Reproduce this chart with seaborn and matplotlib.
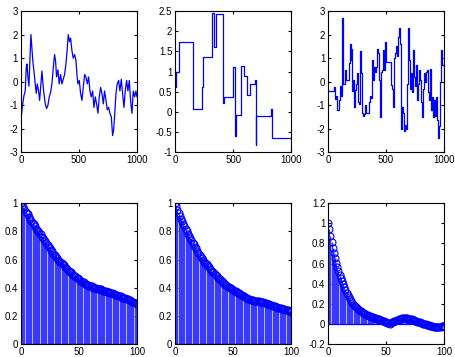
import numpy as np
import matplotlib
matplotlib.use('Agg')
import matplotlib.pyplot as plt
import seaborn as sns

# top row: three sample paths
s1_x = [3, 14, 26, 37, 46, 52, 60, 69, 78, 86, 95, 103, 112, 123, 132, 141, 152, 161, 170, 181,
        190, 198, 210, 221, 233, 244, 256, 267, 279, 290, 299, 307, 319, 330, 342, 353, 365, 376,
        388, 399, 408, 419, 428, 440, 451, 463, 474, 483, 491, 503, 514, 526, 537, 549, 560, 572,
        583, 595, 606, 618, 629, 641, 652, 664, 675, 687, 698, 710, 721, 733, 744, 756, 767, 779,
        790, 799, 807, 819, 830, 842, 853, 865, 876, 888, 899, 911, 922, 934, 945, 957, 968, 980,
        991, 1000]
s1_y = [-1.5, -1.0, -0.6, -0.4, 0.6, 0.75, 0.2, -0.2, 1.0, 2.0, 1.4, 0.85, 0.45, -0.1, -0.5, -0.1,
        -0.4, -0.8, -0.25, 0.45, -0.1, -0.5, -0.95, -1.15, -1.0, -0.65, -0.45, -0.1, 0.6, 1.15, 0.85,
        0.2, 0.5, -0.1, 0.3, -0.1, 0.1, 0.3, 0.75, 1.4, 2.0, 1.7, 1.85, 1.3, 1.0, 1.15, 0.9, 0.3,
        -0.1, 0.05, -0.5, -0.8, -0.25, 0.3, 0.2, -0.1, 0.2, -0.4, -0.65, -0.4, -1.1, -0.65, -0.95,
        -1.35, -0.65, -0.25, -0.5, -0.95, -0.4, -0.8, -1.2, -1.1, -1.35, -1.5, -2.3, -2.05, -1.5,
        -0.5, -0.1, 0.05, -0.4, 0.1, -0.5, -1.1, -0.4, 0.05, -0.4, 0.05, -0.8, -1.35, -0.4, -0.65,
        -0.4, -0.65]

s2_x = [0, 5, 29, 153, 230, 240, 320, 331, 352, 412, 424, 498, 513, 525, 568, 591, 622, 643,
        689, 695, 700, 824, 833, 1000]
s2_y = [0.62, 1.0, 1.72, 0.07, 0.62, 1.36, 2.46, 1.62, 2.43, 0.22, 0.36, 1.1, -0.6, -0.07, 1.13,
        0.9, 0.41, 0.68, 0.78, -0.82, -0.1, 0.06, -0.64, -0.64]

s3_x = [0, 52, 57, 72, 80, 92, 100, 112, 124, 132, 144, 152, 181, 190, 195, 201, 207, 216, 227,
        233, 241, 250, 259, 267, 276, 282, 293, 302, 313, 322, 330, 351, 362, 368, 376, 385, 394,
        402, 411, 420, 428, 437, 445, 454, 463, 471, 480, 491, 500, 540, 552, 563, 572, 580, 589,
        598, 606, 615, 624, 632, 641, 649, 658, 667, 675, 684, 693, 701, 710, 718, 727, 736, 744,
        753, 761, 767, 776, 784, 793, 802, 810, 819, 828, 836, 845, 853, 862, 871, 876, 885, 894,
        902, 911, 920, 928, 937, 945, 954, 963, 971, 980, 997, 1000]
s3_y = [-0.4, -0.25, -0.75, -0.6, -1.2, -0.8, -0.2, -0.6, 2.7, -0.1, 0.5, 0.05, 0.8, 1.6, 0.9,
        1.4, -0.4, 0.05, -1.1, -0.35, -0.1, 0.35, -0.85, -0.95, 1.3, 0.35, -1.35, -1.45, -1.4,
        -1.0, -1.35, -0.85, -0.6, -0.7, 0.9, 0.05, 0.6, 0.4, 0.6, 1.4, 1.2, 0.05, -1.5, 0.4, 0.5,
        1.35, 0.5, 1.7, 0.85, -0.15, -0.3, -1.1, 1.0, 1.2, 1.5, 1.1, 1.9, 2.3, 1.6, -2.0, -1.1,
        -1.35, -2.1, -1.85, -2.0, -0.1, 2.3, 0.9, -0.3, 0.35, -0.45, 1.35, 0.2, -0.2, 0.7, -0.8,
        -0.1, 0.5, 0.05, -0.85, -1.5, -0.3, 0.35, 0.0, 0.4, 0.5, -0.45, -0.8, 0.55, -1.2, -0.65,
        -1.5, -0.8, -1.45, -0.65, -1.65, -2.4, -1.9, 0.0, 1.35, 0.7, -0.8, -0.8]

# bottom row: autocorrelations, lags 0..100
lags = list(range(101))
acf1 = [1.00, 0.99, 0.97, 0.96, 0.94, 0.93, 0.92, 0.90, 0.89, 0.87, 0.86,
        0.85, 0.84, 0.82, 0.81, 0.80, 0.79, 0.78, 0.76, 0.75, 0.74,
        0.73, 0.72, 0.70, 0.69, 0.68, 0.67, 0.66, 0.64, 0.63, 0.62,
        0.61, 0.60, 0.59, 0.58, 0.575, 0.57, 0.56, 0.55, 0.54, 0.53,
        0.52, 0.51, 0.51, 0.50, 0.49, 0.48, 0.48, 0.47, 0.47, 0.46,
        0.45, 0.45, 0.44, 0.44, 0.43, 0.43, 0.42, 0.42, 0.41, 0.41,
        0.41, 0.40, 0.40, 0.40, 0.395, 0.39, 0.39, 0.39, 0.39, 0.385,
        0.38, 0.38, 0.38, 0.37, 0.37, 0.37, 0.36, 0.36, 0.36, 0.355,
        0.35, 0.35, 0.35, 0.34, 0.34, 0.34, 0.33, 0.33, 0.33, 0.325,
        0.32, 0.32, 0.31, 0.31, 0.305, 0.30, 0.30, 0.295, 0.29, 0.285]
acf2 = [1.00, 0.98, 0.95, 0.93, 0.91, 0.89, 0.87, 0.85, 0.84, 0.82, 0.80,
        0.78, 0.77, 0.75, 0.74, 0.72, 0.71, 0.69, 0.68, 0.66, 0.645,
        0.63, 0.62, 0.61, 0.60, 0.585, 0.575, 0.565, 0.555, 0.545, 0.535,
        0.525, 0.515, 0.51, 0.50, 0.49, 0.48, 0.47, 0.465, 0.46, 0.45,
        0.44, 0.43, 0.425, 0.42, 0.41, 0.405, 0.40, 0.395, 0.39, 0.385,
        0.38, 0.375, 0.37, 0.365, 0.36, 0.355, 0.35, 0.345, 0.34, 0.335,
        0.33, 0.325, 0.32, 0.32, 0.315, 0.313, 0.311, 0.309, 0.307, 0.305,
        0.304, 0.303, 0.302, 0.301, 0.30, 0.297, 0.294, 0.291, 0.288, 0.285,
        0.282, 0.279, 0.276, 0.273, 0.27, 0.267, 0.264, 0.261, 0.258, 0.255,
        0.253, 0.251, 0.249, 0.247, 0.245, 0.242, 0.239, 0.236, 0.233, 0.23]
acf3 = [1.0, 0.94, 0.87, 0.81, 0.75, 0.70, 0.66, 0.61, 0.57, 0.53, 0.49,
        0.46, 0.43, 0.40, 0.37, 0.34, 0.31, 0.29, 0.27, 0.25, 0.23,
        0.21, 0.19, 0.18, 0.165, 0.155, 0.145, 0.135, 0.127, 0.118, 0.11,
        0.105, 0.099, 0.094, 0.088, 0.083, 0.078, 0.074, 0.069, 0.065, 0.06,
        0.057, 0.053, 0.05, 0.046, 0.043, 0.038, 0.033, 0.029, 0.024, 0.02,
        0.014, 0.008, 0.003, 0.01, 0.017, 0.022, 0.028, 0.034, 0.038, 0.043,
        0.046, 0.049, 0.052, 0.055, 0.057, 0.057, 0.056, 0.055, 0.054, 0.053,
        0.049, 0.045, 0.041, 0.037, 0.033, 0.028, 0.024, 0.019, 0.015, 0.01,
        0.007, 0.003, 0.0, -0.004, -0.007, -0.01, -0.014, -0.017, -0.02, -0.023,
        -0.025, -0.026, -0.028, -0.029, -0.03, -0.029, -0.027, -0.024, -0.02, -0.017]

sns.set_style('ticks')
plt.rcParams['font.family'] = ['Liberation Sans', 'DejaVu Sans']
plt.rcParams['font.size'] = 7
plt.rcParams['xtick.direction'] = 'in'
plt.rcParams['ytick.direction'] = 'in'
plt.rcParams['xtick.major.size'] = 2.5
plt.rcParams['ytick.major.size'] = 2.5
plt.rcParams['xtick.color'] = 'black'
plt.rcParams['ytick.color'] = 'black'
plt.rcParams['axes.linewidth'] = 0.8

fig = plt.figure(figsize=(4.55, 3.57), dpi=100)
lefts = [0.046, 0.385, 0.721]
w, h = 0.255, 0.395
top_axes = [fig.add_axes([l, 0.574, w, h]) for l in lefts]
bot_axes = [fig.add_axes([l, 0.036, w, h]) for l in lefts]

sns.lineplot(x=s1_x, y=s1_y, ax=top_axes[0], color='blue', linewidth=0.9)
sns.lineplot(x=s2_x, y=s2_y, ax=top_axes[1], color='blue', linewidth=0.9, drawstyle='steps-post')
sns.lineplot(x=s3_x, y=s3_y, ax=top_axes[2], color='blue', linewidth=0.9, drawstyle='steps-post')

top_ylims = [(-3, 3), (-1, 2.5), (-3, 3)]
top_yticks = [np.arange(-3, 4, 1), np.arange(-1, 2.51, 0.5), np.arange(-3, 4, 1)]
for ax, yl, yt in zip(top_axes, top_ylims, top_yticks):
    ax.set_xlim(0, 1000)
    ax.set_ylim(*yl)
    ax.set_xticks([0, 500, 1000])
    ax.set_yticks(yt)
    ax.set_yticklabels([('%g' % v) for v in yt])

bot_ylims = [(0, 1), (0, 1), (-0.2, 1.2)]
bot_yticks = [np.arange(0, 1.01, 0.2), np.arange(0, 1.01, 0.2), np.arange(-0.2, 1.21, 0.2)]
for ax, acf, yl, yt in zip(bot_axes, [acf1, acf2, acf3], bot_ylims, bot_yticks):
    markers, stems, base = ax.stem(lags, acf, linefmt='b-', markerfmt='bo', basefmt='b-')
    stems.set_linewidth(1.0)
    stems.set_color('#3a3aff')
    markers.set_markerfacecolor('none')
    markers.set_markersize(5)
    markers.set_markeredgewidth(0.8)
    base.set_linewidth(0.9)
    base.set_xdata([0, 100])
    ax.set_xlim(0, 100)
    ax.set_ylim(*yl)
    ax.set_xticks([0, 50, 100])
    ax.set_yticks(yt)
    ax.set_yticklabels([('%g' % round(v, 1)) for v in yt])

for ax in top_axes + bot_axes:
    ax.tick_params(top=True, right=True, pad=2, labelsize=7, labelcolor='black')
    for s in ax.spines.values():
        s.set_visible(True)
        s.set_color('black')

fig.savefig('out.png', dpi=100)
